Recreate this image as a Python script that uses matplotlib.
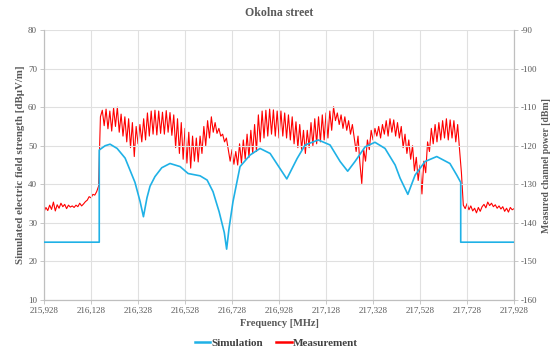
import numpy as np
import matplotlib
matplotlib.use("Agg")
import matplotlib.pyplot as plt

# Simulation (left axis, dBuV/m)
sim_freq = [215.928, 216.163, 216.163, 216.188, 216.209, 216.239, 216.273, 216.315,
            216.337, 216.351, 216.366, 216.379, 216.400, 216.429, 216.464, 216.507,
            216.541, 216.592, 216.622, 216.647, 216.673, 216.695, 216.705, 216.715,
            216.732, 216.762, 216.805, 216.847, 216.890, 216.932, 216.961, 217.005,
            217.039, 217.095, 217.145, 217.188, 217.220, 217.251, 217.294, 217.336,
            217.379, 217.422, 217.443, 217.476, 217.507, 217.549, 217.599, 217.655,
            217.684, 217.701, 217.701, 217.928]
sim_level = [25.0, 25.0, 48.9, 50.0, 50.4, 49.3, 46.8, 40.5,
             35.5, 31.6, 36.5, 39.5, 42.0, 44.3, 45.4, 44.6,
             42.8, 42.2, 41.1, 38.1, 32.9, 27.5, 23.2, 28.5,
             35.5, 44.6, 47.6, 49.3, 48.0, 44.1, 41.4, 46.7,
             50.2, 51.5, 50.2, 45.9, 43.4, 45.9, 49.7, 50.9,
             49.3, 45.0, 41.6, 37.4, 42.4, 45.9, 47.2, 45.4,
             42.4, 40.5, 25.0, 25.0]

# Measurement (right axis, dBm), sampled every 8 kHz from 215.928 MHz
meas_freq = np.linspace(215.928, 217.928, 251)
meas_power = [
    -137.1, -136.0, -136.8, -135.4, -136.5, -134.6, -136.9, -135.3, -136.2, -134.9,
    -135.8, -135.2, -136.3, -135.4, -135.9, -135.6, -136.0, -135.4, -135.8, -134.9,
    -135.6, -135.1, -134.5, -134.1, -133.2, -133.5, -132.6, -132.8, -131.9, -130.5,
    -112.5, -110.8, -114.8, -110.5, -115.6, -111.0, -116.2, -110.2, -115.0, -110.0,
    -116.5, -111.8, -117.5, -112.5, -119.0, -113.0, -120.5, -114.0, -122.8, -115.0,
    -119.5, -114.5, -119.0, -113.0, -118.5, -111.5, -117.5, -111.0, -117.0, -110.8,
    -117.2, -111.0, -116.8, -111.3, -117.0, -110.9, -116.5, -111.4, -117.3, -112.0,
    -120.5, -113.0, -122.0, -114.0, -123.5, -115.5, -124.5, -116.5, -125.8, -117.5,
    -124.0, -118.0, -124.2, -117.5, -122.0, -115.0, -120.0, -113.5, -118.0, -112.5,
    -116.5, -114.0, -116.8, -115.5, -117.5, -117.0, -119.0, -118.0, -121.0, -124.0,
    -121.0, -124.8, -121.5, -125.0, -119.5, -124.5, -118.5, -123.5, -117.0, -123.0,
    -116.0, -122.0, -114.5, -121.5, -112.0, -119.0, -111.0, -118.0, -110.8, -117.5,
    -110.5, -117.0, -110.7, -117.5, -111.0, -118.0, -111.0, -117.5, -111.5, -118.0,
    -112.0, -118.5, -112.5, -119.5, -113.8, -120.5, -114.5, -121.0, -116.0, -122.0,
    -116.0, -120.5, -114.0, -120.0, -113.0, -119.5, -112.5, -119.0, -112.0, -118.5,
    -111.5, -118.0, -111.0, -116.0, -109.9, -113.5, -111.5, -114.5, -112.0, -115.5,
    -112.5, -116.0, -113.5, -117.0, -114.5, -118.0, -121.5, -117.5, -124.5, -129.8,
    -121.0, -124.0, -118.5, -121.0, -116.0, -118.5, -115.5, -117.5, -115.0, -118.0,
    -114.5, -117.0, -113.5, -117.5, -113.0, -116.5, -113.3, -117.5, -114.0, -118.0,
    -115.0, -120.5, -117.0, -122.0, -118.5, -123.5, -120.0, -126.5, -123.0, -129.0,
    -125.0, -132.5, -124.0, -127.0, -119.0, -121.5, -115.5, -119.5, -114.5, -119.0,
    -114.0, -118.5, -113.5, -118.0, -113.0, -118.5, -113.3, -118.0, -113.5, -119.0,
    -114.5, -121.0, -127.0, -135.4, -136.3, -135.0, -136.6, -135.6, -136.9, -136.2,
    -137.4, -136.0, -137.0, -135.8, -135.2, -136.1, -134.6, -135.5, -134.9, -135.8,
    -135.3, -136.2, -135.6, -136.4, -135.8, -137.0, -136.2, -137.2, -136.0, -136.6, -136.3,
]

freq_ticks = [215.928, 216.128, 216.328, 216.528, 216.728, 216.928,
              217.128, 217.328, 217.528, 217.728, 217.928]
freq_labels = ["215,928", "216,128", "216,328", "216,528", "216,728", "216,928",
               "217,128", "217,328", "217,528", "217,728", "217,928"]

plt.rcParams["font.family"] = ["Liberation Serif", "DejaVu Serif"]
plt.rcParams["axes.unicode_minus"] = False
grey = "#595959"
spine_grey = "#bfbfbf"

fig = plt.figure(figsize=(5.53, 3.53), dpi=100)
ax = fig.add_axes([0.0796, 0.150, 0.850, 0.765])
ax2 = ax.twinx()

ax.plot(sim_freq, sim_level, color="#1fb1e6", lw=1.2, label="Simulation", zorder=3)
ax2.plot(meas_freq, meas_power, color="#ff0000", lw=0.8, label="Measurement", zorder=2)

ax.set_xlim(215.928, 217.928)
ax.set_ylim(10, 80)
ax2.set_ylim(-160, -90)
ax.set_yticks(range(10, 81, 10))
ax2.set_yticks(range(-160, -89, 10))
ax.set_xticks(freq_ticks)
ax.set_xticklabels(freq_labels)

ax.grid(True, color="#e0e0e0", lw=0.8)
ax.set_axisbelow(True)
ax.set_zorder(ax2.get_zorder() + 1)
ax.patch.set_visible(False)

for a in (ax, ax2):
    a.spines["top"].set_visible(False)
    for s in ("left", "right", "bottom"):
        a.spines[s].set_color(spine_grey)
        a.spines[s].set_linewidth(0.8)
    a.tick_params(colors=grey, labelsize=6.5, length=3, width=0.6, color=spine_grey, pad=2)

ax.set_title("Okolna street", fontsize=8.5, fontweight="bold", color=grey, pad=10)
ax.set_xlabel("Frequency [MHz]", fontsize=7.5, fontweight="bold", color=grey, labelpad=3)
ax.set_ylabel("Simulated electric field strength [dBµV/m]", fontsize=7.8, fontweight="bold",
              color=grey, labelpad=2)
ax2.set_ylabel("Measured channel power [dBm]", fontsize=7, fontweight="bold",
               color=grey, labelpad=3)

h1, l1 = ax.get_legend_handles_labels()
h2, l2 = ax2.get_legend_handles_labels()
leg = fig.legend(h1 + h2, l1 + l2, loc="lower center", ncol=2, frameon=False,
                 bbox_to_anchor=(0.5, -0.015), handlelength=1.4, handletextpad=0.1,
                 columnspacing=1.2, prop={"size": 8, "weight": "bold"})
for t in leg.get_texts():
    t.set_color("#404040")
for line in leg.get_lines():
    line.set_linewidth(1.8)

fig.savefig("out.png", dpi=100)
